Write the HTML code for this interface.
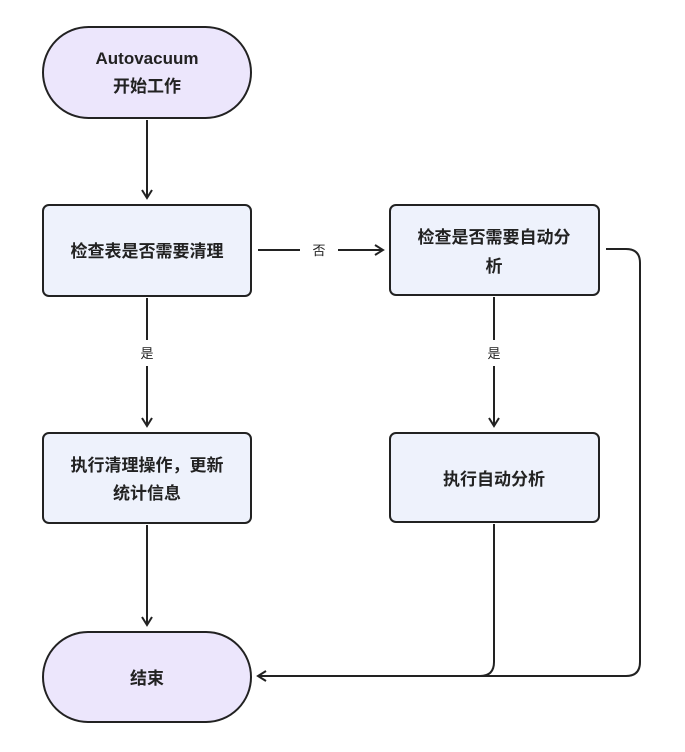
<!DOCTYPE html>
<html><head><meta charset="utf-8"><style>
body{margin:0;background:#fff;}
svg text{font-family:"Liberation Sans","Noto Sans CJK SC",sans-serif;font-weight:bold;fill:#222;}
</style></head><body>
<svg width="685" height="747" viewBox="0 0 685 747" xmlns="http://www.w3.org/2000/svg">
<defs><marker id="a" markerWidth="12" markerHeight="12" refX="10" refY="6" orient="auto" markerUnits="userSpaceOnUse"><path d="M2,1 L10,6 L2,11" fill="none" stroke="#222" stroke-width="2"/></marker></defs>
<g fill="none" stroke="#222" stroke-width="2">
<rect x="43" y="27" width="208" height="91" rx="45.5" fill="#ece6fc"/>
<rect x="43" y="205" width="208" height="91" rx="6" fill="#eef2fc"/>
<rect x="390" y="205" width="209" height="90" rx="6" fill="#eef2fc"/>
<rect x="43" y="433" width="208" height="90" rx="6" fill="#eef2fc"/>
<rect x="390" y="433" width="209" height="89" rx="6" fill="#eef2fc"/>
<rect x="43" y="632" width="208" height="90" rx="45" fill="#ece6fc"/>
<path d="M147 120 V198" marker-end="url(#a)"/>
<path d="M147 298 V340 M147 366 V426" marker-end="url(#a)"/>
<path d="M258 250 H300 M338 250 H383" marker-end="url(#a)"/>
<path d="M494 297 V340 M494 366 V426" marker-end="url(#a)"/>
<path d="M147 525 V625" marker-end="url(#a)"/>
<path d="M606 249 H626 Q640 249 640 263 V662 Q640 676 626 676 H258" marker-end="url(#a)"/>
<path d="M494 524 V662 Q494 676 480 676 H420"/>
</g>
<g font-size="17" text-anchor="middle">
<text x="147" y="64">Autovacuum</text>
<text x="147" y="92">开始工作</text>
<text x="147" y="257">检查表是否需要清理</text>
<text x="494" y="243">检查是否需要自动分</text>
<text x="494" y="272">析</text>
<text x="147" y="471">执行清理操作，更新</text>
<text x="147" y="499">统计信息</text>
<text x="494" y="485">执行自动分析</text>
<text x="147" y="684">结束</text>
</g>
<g font-size="13" text-anchor="middle" style="font-weight:normal">
<text x="319" y="255" style="font-weight:normal">否</text>
<text x="147" y="358" style="font-weight:normal">是</text>
<text x="494" y="358" style="font-weight:normal">是</text>
</g>
</svg>
</body></html>
